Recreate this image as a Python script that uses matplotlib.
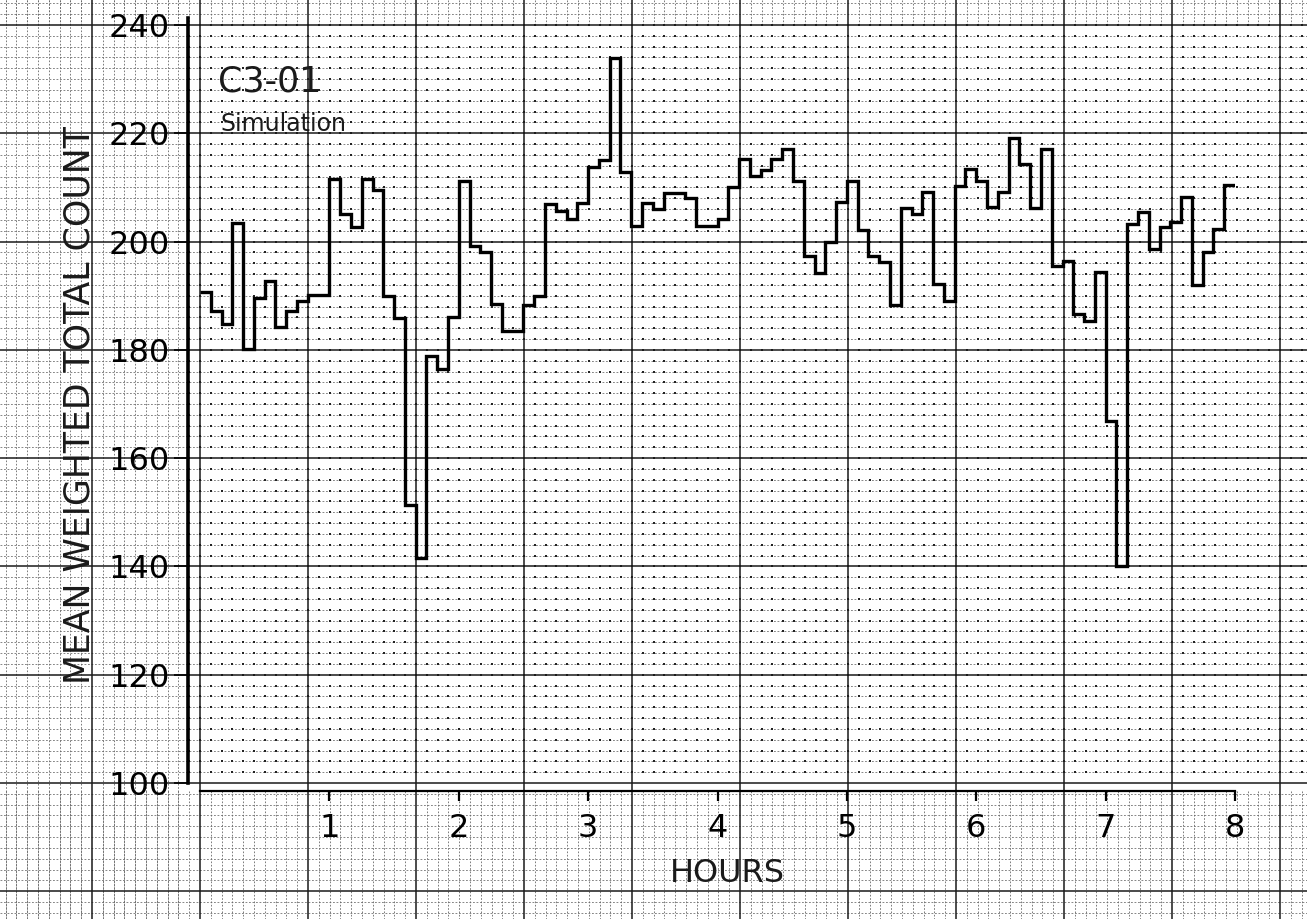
import numpy as np
import matplotlib
matplotlib.use("Agg")
import matplotlib.pyplot as plt

# ---- data: mean weighted total count in 5-minute bins ----
bin_minutes = 5
counts = [190.7, 187.1, 184.8, 203.5, 180.2, 189.6, 192.8, 184.3, 187.1, 189.1,
          190.2, 190.2, 211.6, 205.1, 202.7, 211.6, 209.6, 190.0, 185.8, 151.3,
          141.5, 178.9, 176.4, 186.1, 211.1, 199.2, 198.1, 188.5, 183.4, 183.4,
          188.2, 190.0, 207.0, 205.7, 204.2, 207.2, 213.8, 215.1, 233.9, 212.9,
          202.9, 207.2, 206.1, 209.0, 209.0, 208.1, 202.9, 202.9, 204.2, 210.1,
          215.3, 212.1, 213.3, 215.3, 217.1, 211.2, 197.4, 194.2, 200.0, 207.3,
          211.2, 202.2, 197.4, 196.3, 188.3, 206.2, 205.1, 209.2, 192.2, 189.1,
          210.3, 213.4, 211.2, 206.4, 209.2, 219.2, 214.4, 206.2, 217.1, 195.4,
          196.5, 186.7, 185.4, 194.4, 166.8, 140.0, 203.3, 205.5, 198.7, 202.7,
          203.7, 208.3, 191.9, 198.1, 202.4, 210.5, 210.5]
hour_ticks = [1, 2, 3, 4, 5, 6, 7, 8]
count_ticks = [100, 120, 140, 160, 180, 200, 220, 240]
title_id = "C3-01"
subtitle = "Simulation"
xlabel = "HOURS"
ylabel = "MEAN WEIGHTED TOTAL COUNT"

W, H = 1307, 919
fig = plt.figure(figsize=(W / 100, H / 100), dpi=100)
fig.patch.set_facecolor("white")

# ---- graph paper background (pixel coordinates) ----
bg = fig.add_axes([0, 0, 1, 1], zorder=0)
bg.set_xlim(0, W)
bg.set_ylim(H, 0)
bg.axis("off")

x0_px, x8_px = 200.0, 1235.0
y100_px, y240_px = 783.0, 25.0
maj_x = 108.0
maj_y = (y100_px - y240_px) / 7.0
min_x = maj_x / 10
min_y = maj_y / 10
axis_x_px = 188.0
axis_y_px = 791.0

vmaj = np.arange(x0_px - maj_x, W + 1, maj_x)
hmaj = np.arange(y240_px, H + 1, maj_y)
vmin = np.arange(x0_px - 2 * maj_x, W + 1, min_x)
hmin = np.arange(y240_px - maj_y, H + 1, min_y)

ink = "#1a1a1a"
# horizontal minor dashed lines
for y in hmin:
    if np.min(np.abs(hmaj - y)) < 1:
        continue
    bg.plot([0, W], [y, y], color="0.45", lw=0.6, ls=(0, (2.2, 2.0)), zorder=1)
# vertical minor lines: dashed in margins, dots inside plot area
for x in vmin:
    if np.min(np.abs(vmaj - x)) < 1:
        continue
    bg.plot([x, x], [0, y240_px], color="0.4", lw=0.6, ls=(0, (2, 2)), zorder=1)
    bg.plot([x, x], [axis_y_px, H], color="0.4", lw=0.6, ls=(0, (2, 2)), zorder=1)
    if x < axis_x_px:
        bg.plot([x, x], [0, H], color="0.4", lw=0.6, ls=(0, (2, 2)), zorder=1)
gx, gy = np.meshgrid(vmin[(vmin > axis_x_px) & (vmin < W)],
                     hmin[(hmin > y240_px) & (hmin < y100_px)])
bg.scatter(gx.ravel(), gy.ravel(), s=1.8, marker="s", color="#222222",
           linewidths=0, zorder=1)
# major lines
for x in vmaj:
    bg.plot([x, x], [0, H], color=ink, lw=1.1, zorder=2)
for y in hmaj:
    bg.plot([0, W], [y, y], color=ink, lw=1.1, zorder=2)

# ---- data axes ----
left = x0_px / W
width = (x8_px - x0_px) / W
bottom = (H - y100_px) / H
height = (y100_px - y240_px) / H
ax = fig.add_axes([left, bottom, width, height], zorder=3)
ax.patch.set_alpha(0)
ax.set_xlim(0, 8)
ax.set_ylim(100, 240)

edges = np.arange(len(counts) + 1) * bin_minutes / 60.0
ax.stairs(counts, edges, color="black", lw=2.4, baseline=None)

px_per_hour = (x8_px - x0_px) / 8
px_per_count = (y100_px - y240_px) / 140
for s in ["top", "right"]:
    ax.spines[s].set_visible(False)
ax.spines["left"].set_position(("data", (axis_x_px - x0_px) / px_per_hour))
ax.spines["left"].set_bounds(100, 241.3)
ax.spines["left"].set_linewidth(2.6)
ax.spines["bottom"].set_position(("data", 100 - (axis_y_px - y100_px) / px_per_count))
ax.spines["bottom"].set_bounds(0, 8)
ax.spines["bottom"].set_linewidth(1.6)

ax.set_xticks(hour_ticks)
ax.set_xticklabels([str(h) for h in hour_ticks])
ax.set_yticks(count_ticks)
ax.set_yticklabels([str(c) for c in count_ticks])
ax.tick_params(axis="x", direction="out", length=7, width=1.6, pad=9,
               labelsize=23)
ax.tick_params(axis="y", direction="out", length=10, width=1.2, pad=3,
               labelsize=23)

# ---- texts ----
bg.text(218, 82, title_id, fontsize=25, ha="left", va="center", color=ink,
        zorder=5)
bg.text(220, 124, subtitle, fontsize=17, ha="left", va="center", color=ink,
        zorder=5)
bg.text(727, 873, xlabel, fontsize=23, ha="center", va="center", color=ink,
        zorder=5)
bg.text(80, 405, ylabel, fontsize=25, ha="center", va="center", rotation=90,
        color=ink, zorder=5)

fig.savefig("out.png", dpi=100, facecolor="white")
